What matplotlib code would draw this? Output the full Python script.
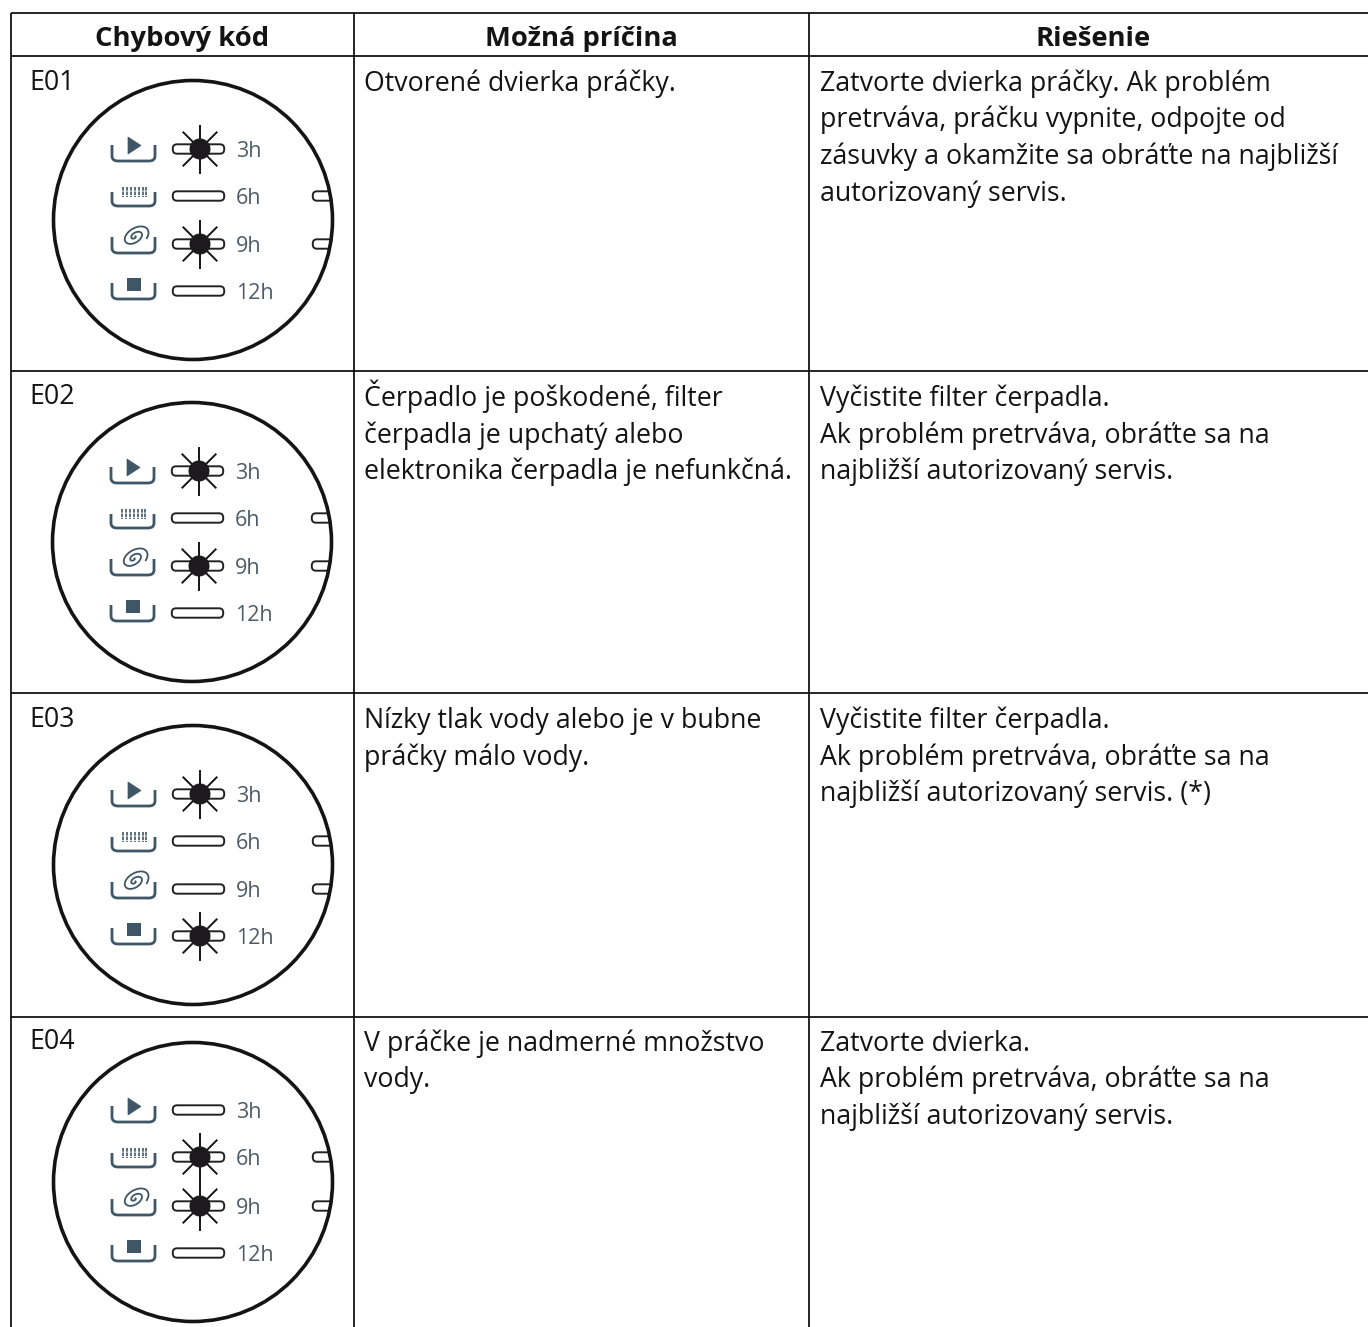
import numpy as np
import matplotlib
matplotlib.use("Agg")
import matplotlib.pyplot as plt
from matplotlib.patches import Circle, FancyBboxPatch, Polygon, Rectangle
from matplotlib.path import Path
from matplotlib.patches import PathPatch

plt.rcParams['font.family'] = ['Open Sans', 'DejaVu Sans']

headers = ["Chybový kód", "Možná príčina", "Riešenie"]
codes = ["E01", "E02", "E03", "E04"]
causes = [
    ["Otvorené dvierka práčky."],
    ["Čerpadlo je poškodené, filter", "čerpadla je upchatý alebo", "elektronika čerpadla je nefunkčná."],
    ["Nízky tlak vody alebo je v bubne", "práčky málo vody."],
    ["V práčke je nadmerné množstvo", "vody."],
]
solutions = [
    ["Zatvorte dvierka práčky. Ak problém", "pretrváva, práčku vypnite, odpojte od", "zásuvky a okamžite sa obráťte na najbližší", "autorizovaný servis."],
    ["Vyčistite filter čerpadla.", "Ak problém pretrváva, obráťte sa na", "najbližší autorizovaný servis."],
    ["Vyčistite filter čerpadla.", "Ak problém pretrváva, obráťte sa na", "najbližší autorizovaný servis. (*)"],
    ["Zatvorte dvierka.", "Ak problém pretrváva, obráťte sa na", "najbližší autorizovaný servis."],
]
hours = ["3h", "6h", "9h", "12h"]
lit = [[1, 0, 1, 0], [1, 0, 1, 0], [1, 0, 0, 1], [0, 1, 1, 0]]

# layout (pixels)
col_x = [11, 354, 809, 1368]
row_y = [13, 56, 371, 693, 1017, 1327]
header_x = [182, 581, 1093]
circle_xy = [(193, 220), (192, 542), (193, 865), (193, 1182)]
baselines = [91, 406, 728, 1051]
code_base = [90, 404, 727, 1049]
row_off = [[-71, -24, 24, 71], [-71, -24, 24, 71], [-71, -24, 24, 71], [-72, -25, 24, 71]]
tray_span = [(-4, 12), (-4, 10), (-7, 9), (-8, 8)]
LH = 36.5
FS = 19.3
ICON = '#3f5666'
LABEL = '#4d5b66'
INK = '#141414'

fig = plt.figure(figsize=(13.68, 13.27), dpi=100)
ax = fig.add_axes([0, 0, 1, 1])
ax.set_xlim(0, 1368)
ax.set_ylim(1327, 0)
ax.axis('off')

for y in row_y[:-1]:
    ax.plot([col_x[0], col_x[-1]], [y, y], color='black', lw=1.2, solid_capstyle='butt')
for x in col_x[:-1]:
    ax.plot([x, x], [row_y[0], row_y[-1]], color='black', lw=1.2, solid_capstyle='butt')

for x, h in zip(header_x, headers):
    ax.text(x, 46, h, ha='center', va='baseline', fontsize=19.7, fontweight='bold', color=INK)


def pill(cx, cy, x0, x1, clip=None):
    p = FancyBboxPatch((cx + x0 + 5, cy - 0.5), x1 - x0 - 10, 1, boxstyle='round,pad=4.2,rounding_size=4.2',
                       fc='white', ec='#222222', lw=1.4, zorder=3)
    ax.add_patch(p)
    if clip is not None:
        p.set_clip_path(clip)
    return p


def tray(cx, cy, span):
    top, bot = span
    verts = [(-81, top), (-81, bot - 5), (-81, bot), (-75, bot), (-44, bot), (-38, bot), (-38, bot - 5), (-38, top)]
    codes_ = [Path.MOVETO, Path.LINETO, Path.CURVE3, Path.CURVE3, Path.LINETO, Path.CURVE3, Path.CURVE3, Path.LINETO]
    vv = [(cx + a, cy + b) for a, b in verts]
    ax.add_patch(PathPatch(Path(vv, codes_), fc='none', ec=ICON, lw=2.0, zorder=3))


def symbol(kind, cx, cy):
    if kind == 0:
        ax.add_patch(Polygon([(cx - 65, cy - 12), (cx - 65, cy + 5), (cx - 52, cy - 3.5)], fc=ICON, ec=ICON, lw=0.5, zorder=3))
    elif kind == 1:
        for dx in np.arange(-70, -45, 3.9):
            ax.plot([cx + dx, cx + dx], [cy - 9, cy + 1], color=ICON, lw=1.2, ls=(0, (2.2, 0.5)), zorder=3)
    elif kind == 2:
        t = np.linspace(0.5, 4.3 * np.pi, 160)
        r = t / t.max()
        u = r * 15.5 * np.cos(t)
        v = r * 9.5 * np.sin(t)
        rot = np.deg2rad(-32)
        xs = cx - 58 + u * np.cos(rot) - v * np.sin(rot)
        ys = cy - 7.5 + u * np.sin(rot) + v * np.cos(rot)
        ax.plot(xs, ys, color=ICON, lw=1.3, zorder=3)
    else:
        ax.add_patch(Rectangle((cx - 66, cy - 13), 14, 13, fc=ICON, ec='none', zorder=3))


def star(cx, cy):
    for deg in (45, 90, 135):
        ang = np.deg2rad(deg)
        dx, dy = np.cos(ang), np.sin(ang)
        ax.plot([cx - 23.5 * dx, cx + 23.5 * dx], [cy - 23.5 * dy, cy + 23.5 * dy], color=INK, lw=1.4, zorder=4)
    ax.add_patch(Circle((cx, cy), 10.5, fc='#1c1a1c', ec='none', zorder=5))


for i, (cx, cy) in enumerate(circle_xy):
    ax.text(29, code_base[i], codes[i], fontsize=FS, color=INK, va='baseline', ha='left')
    ring = Circle((cx, cy), 139.5, fc='none', ec=INK, lw=2.6, zorder=6)
    ax.add_patch(ring)
    clip = Circle((cx, cy), 139.5, transform=ax.transData)
    for j in range(4):
        yy = cy + row_off[i][j]
        tray(cx, yy, tray_span[j])
        symbol(j, cx, yy)
        pill(cx, yy, -21, 32)
        if lit[i][j]:
            star(cx + 7, yy)
        ax.text(cx + 43, yy + 8, hours[j], fontsize=15.5, color=LABEL, va='baseline', ha='left', zorder=3)
        if j in (1, 2):
            pill(cx, yy, 119, 172, clip)
    for k, line in enumerate(causes[i]):
        ax.text(364, baselines[i] + k * LH, line, fontsize=FS, color=INK, va='baseline', ha='left')
    for k, line in enumerate(solutions[i]):
        ax.text(820, baselines[i] + k * LH, line, fontsize=FS, color=INK, va='baseline', ha='left')

fig.savefig('out.png', dpi=100)
